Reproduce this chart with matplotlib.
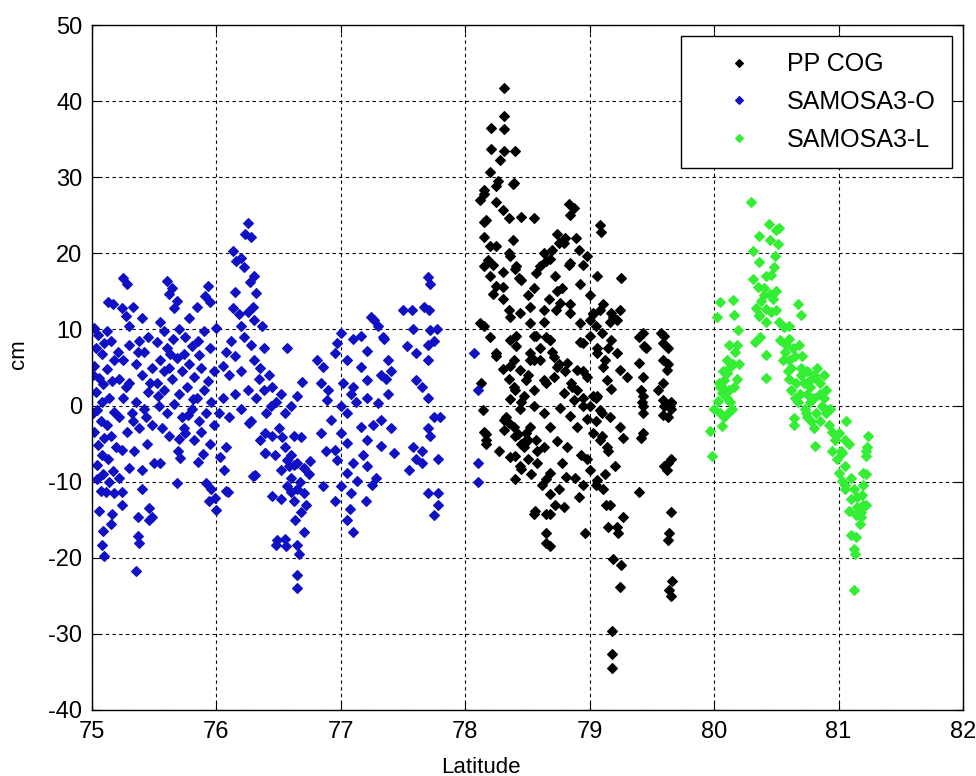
import matplotlib
matplotlib.use("Agg")
import matplotlib.pyplot as plt

plt.rcParams['font.family'] = ['Liberation Sans', 'DejaVu Sans']
plt.rcParams['axes.unicode_minus'] = False

# --- PP COG (black) ---
cog_lat = [
    78.31, 78.31, 78.21, 78.31, 78.40, 78.21, 78.31, 78.28, 78.20, 78.26, 78.38, 78.15, 78.12,
    78.25, 78.30, 78.35, 78.45, 78.55, 78.15, 78.83, 78.87, 79.08, 78.15, 78.20, 78.25, 78.18,
    78.22, 78.15, 78.20, 78.25, 78.22, 78.30, 78.35, 78.30, 78.35, 78.40, 78.45, 78.50, 78.55,
    78.60, 78.65, 78.70, 78.75, 78.80, 78.72, 78.78, 78.67, 78.73, 78.83, 78.95, 78.92, 79.00,
    79.03, 79.05, 79.10, 79.25, 79.15, 79.12, 78.15, 78.20, 78.25, 78.30, 78.35, 78.40, 78.45,
    78.50, 78.55, 78.60, 78.65, 78.70, 78.75, 78.80, 78.85, 78.90, 78.95, 79.00, 79.05, 79.10,
    78.13, 78.15, 78.17, 78.15, 78.25, 78.39, 78.84, 78.89, 79.09, 78.17, 78.36, 78.38, 78.41,
    78.30, 78.43, 78.57, 78.63, 78.68, 78.74, 78.79, 78.84, 78.91, 78.98, 79.06, 79.11, 79.17,
    79.22, 79.00, 78.84, 78.74, 78.63, 78.52, 78.41, 78.57, 78.68, 78.95, 79.06, 79.17, 78.25,
    78.36, 78.52, 78.63, 78.74, 78.86, 78.95, 79.06, 79.17, 78.12,
    # middle band
    78.36, 78.44, 78.52, 78.63, 78.76, 78.84, 78.92, 79.03, 79.08, 79.19, 79.00, 78.92, 78.36,
    78.41, 78.55, 78.68, 78.52, 78.60, 78.71, 78.82, 78.90, 78.98, 79.06, 79.11, 79.14, 79.22,
    79.24, 79.30, 78.39, 78.44, 78.49, 78.39, 78.47, 78.55, 78.65, 78.71, 78.79, 78.87, 78.95,
    79.03, 79.08, 79.16, 78.55, 78.63, 78.44, 78.36, 78.31, 78.39, 78.49, 78.57, 78.47, 78.76,
    78.84, 78.90, 78.98, 79.03, 79.08, 79.14, 79.24, 79.27, 78.68, 78.74, 78.82, 78.63, 79.24,
    79.16,
    # right columns
    79.43, 79.44, 79.57, 79.59, 79.40, 79.43, 79.59, 79.62, 79.59, 79.43, 79.43, 79.59, 79.65,
    79.59, 79.43, 79.41, 79.41, 79.42, 79.60, 79.63, 79.63, 79.55, 79.60, 79.65, 79.40, 79.45,
    79.43, 79.63, 79.65, 79.60, 79.65, 79.63, 79.62, 79.65, 79.64, 79.63, 79.66, 79.65, 79.64,
    79.40,
    # lower part
    78.14, 78.17, 78.31, 78.42, 78.52, 78.47, 78.36, 78.44, 78.58, 78.68, 78.17, 78.35, 78.40,
    78.45, 78.50, 78.40, 78.50, 78.45, 78.40, 78.65, 78.68, 78.81, 78.75, 78.72, 78.56, 78.65,
    78.65, 78.65, 78.55, 78.68, 78.68, 78.79, 78.96, 78.91, 78.95, 79.00, 79.05, 79.16, 79.13,
    79.27, 79.15, 79.23, 79.19, 79.25, 79.24, 79.18, 79.18, 79.18, 79.06, 79.11, 79.22, 79.05,
    79.10, 79.15, 79.20, 78.98, 78.58, 78.53, 78.62, 78.78, 78.88, 78.93, 79.12, 78.33, 78.27,
]
cog_cm = [
    41.7, 38.0, 36.5, 36.3, 33.4, 33.7, 33.5, 32.2, 30.7, 29.5, 29.1, 27.8, 27.0,
    26.8, 25.7, 24.6, 24.8, 24.6, 24.1, 26.5, 26.0, 23.7, 22.2, 21.0, 20.9, 19.1,
    18.5, 18.3, 17.0, 15.7, 14.6, 14.0, 12.6, 17.5, 20.0, 18.0, 16.5, 14.5, 15.5,
    18.3, 19.0, 20.5, 21.3, 22.0, 17.0, 15.5, 14.0, 12.5, 18.5, 18.5, 16.0, 14.5,
    12.0, 10.5, 9.5, 16.7, 7.5, 6.0, 10.4, 9.0, 6.5, 4.8, 3.5, 2.0, 0.5,
    4.0, 6.0, 7.5, 9.0, 7.0, 5.5, 4.5, 3.0, 2.0, 1.0, 0.0, 1.0, -1.0,
    3.0, -3.5, -5.0, 28.3, 28.8, 29.2, 25.0, 22.0, 22.8, 24.4, 19.6, 21.8, 18.3,
    15.6, 16.8, 17.4, 20.0, 19.2, 22.6, 21.3, 18.7, 20.4, 19.6, 17.0, 13.4, 12.1,
    11.2, 11.2, 13.4, 15.0, 11.0, 10.8, 9.1, 9.1, 8.6, 8.2, 7.5, 8.6, 6.9,
    5.2, 6.0, 3.4, 5.1, 2.5, 4.6, 1.2, 2.2, 10.8,
    11.7, 12.1, 13.0, 12.6, 13.5, 12.1, 10.8, 12.1, 12.6, 11.7, 9.1, 8.4, 8.6,
    7.8, 9.1, 8.6, 6.9, 6.0, 6.4, 5.6, 4.7, 3.8, 6.9, 5.1, 3.4, 6.9,
    4.7, 3.8, 6.0, 4.7, 3.4, 2.5, 1.2, 2.0, 2.9, 3.8, 1.6, 0.7, -0.1,
    1.2, -0.6, -1.5, -0.1, -1.0, -0.5, 0.8, -3.2, -2.8, -3.6, -4.5, -4.8, -0.3,
    -1.4, -2.8, -1.8, -3.6, -4.5, -5.4, -2.8, -4.2, -2.8, -4.6, -5.5, -5.4, 12.6,
    11.0,
    9.5, 7.8, 9.5, 8.2, 5.6, 3.8, 6.0, 4.7, 2.9, 1.2, -0.1, 0.7, 0.3,
    -1.2, -3.6, -4.2, 2.0, 0.5, 9.1, 7.5, 5.5, 2.0, 0.0, 0.5, 9.0, 7.5,
    -1.0, -1.5, -0.5, -8.0, -7.0, -7.5, -8.5, -14.0, -16.8, -17.6, -23.0, -25.0, -24.2,
    -11.4,
    -0.6, -3.7, -1.9, -3.7, -2.8, -5.4, -6.7, -8.0, -7.6, -8.9, -4.5, -2.3, -4.0,
    -5.0, -4.5, -6.6, -7.0, -8.3, -9.7, -9.7, -11.6, -9.4, -11.0, -13.0, -13.8, -14.3,
    -16.8, -18.1, -14.2, -14.2, -18.5, -13.3, -16.8, -12.0, -10.5, -8.5, -10.5, -13.1, -13.0,
    -14.7, -16.0, -16.8, -20.1, -21.0, -23.8, -29.6, -32.6, -34.5, -9.8, -11.0, -15.9, -2.0,
    -4.0, -6.0, -8.0, -7.0, -6.0, -9.0, -10.5, -7.5, -9.5, -6.5, -9.0, -1.5, -6.0,
]

# --- SAMOSA3-O (blue) ---
so_lat = [
    75.02, 75.05, 75.03, 75.08, 75.02, 75.06, 75.03, 75.08, 75.04, 75.07, 75.02, 75.05, 75.08,
    75.04, 75.09, 75.07, 75.06, 75.09, 75.08, 75.10, 75.09, 75.10, 75.10, 75.01, 75.01, 75.04,
    75.13, 75.17, 75.12, 75.15, 75.18, 75.12, 75.16, 75.14, 75.18, 75.12, 75.15, 75.19, 75.13,
    75.17, 75.14, 75.18, 75.16, 75.15, 75.11, 75.24, 75.24, 75.40, 75.37, 75.46, 75.48, 75.46,
    75.35, 75.37, 75.38,
    75.25, 75.28, 75.24, 75.27, 75.30, 75.33, 75.40, 75.38, 75.45, 75.42, 75.30, 75.25, 75.35,
    75.22, 75.30, 75.40, 75.48, 75.25, 75.35, 75.45, 75.22, 75.32, 75.42, 75.28, 75.38, 75.48,
    75.24, 75.34, 75.44, 75.30, 75.40, 75.22, 75.50, 75.27, 75.37, 75.47, 75.33, 75.43, 75.21,
    75.60, 75.62, 75.64, 75.68, 75.66, 75.84, 75.93, 75.95, 75.91, 75.55, 75.58, 75.52, 75.60,
    75.65, 75.70, 75.75, 75.80, 75.85, 75.90, 75.95, 76.00, 75.55, 75.62, 75.68, 75.72, 75.78,
    75.82, 75.88, 75.93, 75.98, 75.52, 75.58, 75.64, 75.70, 75.76, 75.84, 75.90, 75.96, 75.54,
    75.60, 75.66, 75.72, 75.80, 75.86, 75.92, 75.98, 75.56, 75.62, 75.74, 75.82, 75.88, 75.95,
    75.68, 75.71, 75.55, 75.75, 75.70, 75.85, 75.89, 75.92, 75.96, 75.94, 75.99, 76.00, 75.78,
    75.63, 75.74, 75.86, 75.58, 75.53, 75.77, 75.69, 75.81,
    76.09, 76.06, 76.03, 76.08, 76.29, 76.26, 76.39, 76.45, 76.48, 76.49,
    76.25, 76.23, 76.28, 76.13, 76.20, 76.16, 76.22, 76.30, 76.27, 76.32, 76.15, 76.13, 76.18,
    76.25, 76.30, 76.20, 76.22, 76.28, 76.12, 76.08, 76.15, 76.05, 76.10, 76.20, 76.30, 76.35,
    76.38, 76.42, 76.45, 76.38, 76.32, 76.25, 76.15, 76.05, 76.02, 76.10, 76.20, 76.28, 76.40,
    76.48, 76.52, 76.55, 76.50, 76.45, 76.35, 76.55, 76.60, 76.62, 76.58, 76.65, 76.52, 76.29,
    76.37, 76.57, 76.69, 76.65, 76.60, 76.68, 76.53, 76.39, 76.39, 76.47, 76.57, 76.62, 76.70,
    76.75, 76.57, 76.65, 76.31, 76.08, 76.34, 76.44,
    76.60, 76.68, 76.70, 76.65, 76.66, 76.65, 76.65, 76.55, 76.56, 76.52, 76.62, 76.72, 76.67,
    76.60, 76.70, 76.63, 76.74,
    76.81, 76.86, 76.84, 76.89, 76.95, 77.00, 76.97, 77.05, 77.10, 77.16, 77.21, 77.27, 77.30,
    77.35, 77.38, 77.16, 77.21, 77.10, 77.02, 77.32, 77.00, 77.05, 77.12, 77.21, 77.30, 77.38,
    77.32, 77.16, 77.00, 76.92, 76.84, 76.95, 77.05, 77.21, 77.32, 77.43, 76.97, 77.10, 77.21,
    77.05, 77.00, 77.13, 77.08, 76.86, 77.57, 77.53, 77.07, 77.10, 77.05, 76.95, 77.20, 77.24,
    77.26, 77.36, 77.40, 77.28, 77.34, 77.40, 76.90, 77.18, 77.25, 77.08, 76.88,
    77.70, 77.72, 77.50, 77.67, 77.71, 77.72, 77.77, 77.58, 77.60, 77.70, 77.75, 77.70, 77.60,
    77.65, 77.70, 77.75, 77.80, 77.70, 77.72, 77.65, 77.58, 77.60, 77.65, 77.78, 77.55, 77.70,
    77.78, 77.78, 77.75,
    78.07, 78.10, 78.10, 78.10,
]
so_cm = [
    10.2, 9.3, 7.5, 6.8, 5.2, 3.6, 1.8, 0.5, -0.6, -2.0, -3.5, -5.2, -6.5,
    -7.8, -9.0, -11.2, -13.8, -16.5, -18.3, -19.8, 2.8, 8.2, -4.2, 4.0, -1.0, -9.6,
    13.6, 13.4, 9.8, 8.5, 6.0, 4.8, 3.2, 1.0, -0.8, -2.5, -4.0, -5.5, -7.0,
    -8.6, -10.0, -11.5, -14.2, -15.5, -11.3, -11.3, -13.0, -10.9, -14.6, -13.5, -14.6, -15.0,
    -21.8, -17.2, -18.1,
    16.8, 16.0, 12.8, 11.8, 10.5, 13.0, 11.5, 8.5, 9.0, 7.0, 8.0, 6.0, 5.5,
    3.5, 3.0, 4.0, 5.0, 1.0, 0.5, 1.8, -1.5, -1.0, -0.5, -3.5, -3.0, -2.5,
    -5.8, -6.0, -5.0, -8.2, -8.5, -9.5, -7.5, 2.5, 7.0, 3.0, -2.0, -1.5, 7.0,
    16.4, 14.7, 15.5, 13.8, 12.8, 13.0, 15.7, 13.6, 14.4, 11.0, 9.8, 8.4, 7.5,
    8.8, 10.0, 9.0, 7.8, 8.5, 9.8, 7.5, 10.2, 6.0, 5.0, 6.2, 4.5, 5.5,
    3.8, 5.0, 3.2, 4.5, 3.0, 2.0, 3.5, 1.5, 2.5, 1.0, 2.0, 0.5, 0.0,
    -1.0, 0.2, -1.5, -0.5, -2.0, -1.0, -2.5, -3.0, -4.0, -3.0, -4.5, -3.5, -5.0,
    -10.2, -6.9, -7.5, -3.6, -4.4, -7.4, -6.3, -10.2, -11.0, -12.5, -12.1, -13.7, 11.5,
    6.8, 6.8, 6.6, 4.6, 1.2, -1.2, -6.0, 0.8,
    -11.4, -8.5, -6.8, -5.5, -9.3, -2.3, -6.2, -11.9, -18.3, -17.7,
    24.0, 22.5, 22.2, 20.3, 19.4, 19.0, 18.2, 17.0, 16.2, 14.8, 14.9, 12.8, 12.0,
    12.3, 11.2, 10.5, 9.0, 8.0, 8.5, 7.0, 6.5, 5.2, 4.0, 4.5, 6.0, 5.0,
    7.5, 4.0, 2.5, 2.0, 1.0, 2.0, 1.5, 1.0, -1.0, -1.5, -0.5, -2.0, -1.0,
    0.5, 1.5, -1.0, -3.0, -4.0, -4.5, -5.5, -6.5, -4.0, -8.0, -7.5, -8.5, 13.0,
    10.4, 7.6, 3.1, 1.2, -0.1, -4.1, -4.1, -3.6, -6.2, -6.5, -7.1, -7.8, -8.2,
    -7.3, -10.6, -11.0, -9.1, -11.2, 3.5, 0.0,
    -11.4, -14.0, -16.6, -18.3, -19.5, -22.3, -24.0, -17.5, -18.5, -12.3, -12.5, -13.0, -10.0,
    -9.5, -11.5, -15.0, -9.0,
    6.0, 5.1, 3.0, 0.7, 6.9, 9.5, 8.2, 6.0, 8.7, 9.1, 7.2, 11.3, 10.4,
    8.7, 6.0, 5.1, 3.4, 2.5, 3.0, 4.0, -0.1, -1.0, 0.5, 1.0, 0.3, 1.5,
    -1.9, -2.8, -3.6, -1.9, -3.6, -5.8, -4.9, -4.5, -5.3, -6.2, -7.1, -7.5, -8.0,
    -8.8, -10.6, -9.9, -11.5, -10.6, 12.6, 7.8, -13.6, -16.6, -15.0, -12.5, -12.5, 11.6,
    -2.5, 3.5, -3.0, -9.5, 9.0, 4.5, 2.0, -6.5, -10.5, 1.5, -6.0,
    16.9, 16.0, 12.5, 13.0, 12.5, 9.9, 10.0, 10.0, 6.9, 8.0, 8.5, 6.0, 3.4,
    2.5, 1.0, -1.5, -1.5, -3.0, -4.0, -6.0, -5.5, -7.0, -7.5, -7.0, -8.5, -11.5,
    -11.5, -13.0, -14.4,
    6.9, 2.1, -7.5, -10.0,
]

# --- SAMOSA3-L (green) ---
sl_lat = [
    80.30, 80.44, 80.36, 80.50, 80.52, 80.45, 80.51, 80.31, 80.36, 80.49, 80.48, 80.46, 80.42,
    80.31, 80.35, 80.40, 80.45, 80.38, 80.50, 80.50, 80.42, 80.36, 80.34, 80.46, 80.36, 80.42,
    80.52, 80.60, 80.67, 80.70, 80.56, 80.60, 80.53, 80.37, 80.33, 80.42, 80.42, 80.47, 80.40,
    80.05, 80.02, 80.15, 80.16, 80.19, 80.18, 80.17, 80.15, 80.13, 80.10, 80.08, 80.05, 80.06,
    80.03, 80.00, 80.05, 80.08, 80.06, 79.97, 79.98, 80.14, 80.12, 80.18, 80.20, 80.10, 80.10,
    80.12, 80.07, 80.04, 80.09, 80.13, 80.16, 80.11,
    80.57, 80.60, 80.62, 80.65, 80.60, 80.62, 80.65, 80.67, 80.64, 80.64, 80.70, 80.72, 80.70,
    80.75, 80.78, 80.80, 80.82, 80.85, 80.85, 80.80, 80.77, 80.75, 80.73, 80.75, 80.78, 80.80,
    80.82, 80.85, 80.87, 80.90, 80.90, 80.88, 80.81, 80.92, 80.95, 80.97, 80.95, 80.58, 80.63,
    80.68, 80.55, 80.59, 80.66, 80.71, 80.77, 80.83, 80.69, 80.74, 80.88, 80.93,
    81.00, 81.02, 81.05, 81.08, 81.03, 81.05, 81.00, 81.03, 81.05, 81.10, 81.08, 81.05, 81.10,
    81.12, 81.15, 81.14, 81.10, 81.14, 81.12, 81.12, 81.24, 81.22, 81.22, 81.22, 81.20, 81.20,
    81.19, 81.20, 81.22, 81.18, 81.18, 81.06, 80.99, 81.15, 81.23, 81.17, 81.13,
]
sl_cm = [
    26.7, 23.8, 22.3, 23.0, 23.3, 21.7, 21.2, 20.3, 18.8, 19.7, 18.2, 17.1, 17.0,
    16.6, 15.6, 15.5, 14.7, 13.8, 15.1, 12.5, 12.7, 11.8, 12.8, 12.3, 11.9, 11.0,
    11.0, 10.5, 13.4, 11.9, 10.3, 8.8, 8.6, 9.0, 8.4, 6.7, 3.6, 14.0, 14.5,
    13.6, 11.7, 13.9, 11.9, 9.9, 8.0, 7.1, 5.5, 5.1, 4.3, 3.4, 2.5, 1.7,
    0.6, -0.5, -1.0, -1.5, -2.7, -3.3, -6.6, -0.5, 2.0, 3.5, 5.5, 1.0, 6.0,
    8.0, 4.5, 3.0, 2.0, 0.5, 2.5, -1.0,
    7.0, 6.0, 5.0, 6.5, 3.5, 2.0, 1.0, 0.5, -1.6, -2.5, 4.0, 3.0, 5.0,
    4.5, 3.5, 4.0, 3.5, 3.0, 1.5, 1.0, 0.5, 1.5, -0.5, -1.5, -2.0, -3.0,
    -1.0, -2.0, 0.0, -1.0, 2.0, 4.0, -5.3, -2.5, -3.5, -4.5, -6.0, 8.0, 7.5,
    8.0, 6.0, 4.5, 3.0, 6.5, 2.5, 5.0, 1.5, -1.0, 1.0, -0.5,
    -3.6, -6.0, -4.5, -5.0, -6.2, -8.0, -8.8, -9.9, -11.0, -12.3, -13.8, -10.5, -9.5,
    -11.0, -13.3, -14.4, -17.0, -17.3, -18.8, -24.2, -4.0, -6.0, -6.6, -9.0, -8.8, -10.5,
    -11.8, -13.0, -13.1, -14.0, -14.7, -2.0, -7.0, -12.0, -5.5, -15.5, -19.5,
]

fig = plt.figure(figsize=(9.76, 7.76), dpi=100)
ax = fig.add_axes([92 / 976, 66 / 776, 871 / 976, 685 / 776])

mk = dict(linestyle='none', marker='D', markersize=5.3, markeredgewidth=0.8)
ax.plot(cog_lat, cog_cm, color='black', label='PP COG', **mk)
ax.plot(so_lat, so_cm, color='#1010C4', label='SAMOSA3-O', **mk)
ax.plot(sl_lat, sl_cm, color='#33EE33', label='SAMOSA3-L', **mk)

ax.set_xlim(75, 82)
ax.set_ylim(-40, 50)
ax.set_xticks(range(75, 83))
ax.set_yticks(range(-40, 51, 10))
ax.tick_params(direction='in', top=True, right=True, length=6, labelsize=17)
ax.tick_params(axis='x', pad=8)
ax.tick_params(axis='y', pad=7)
ax.grid(True, color='black', linestyle=(0, (3, 3)), linewidth=0.8)
for sp in ax.spines.values():
    sp.set_linewidth(1.0)

ax.set_xlabel('Latitude', fontsize=16)
ax.xaxis.set_label_coords(0.447, -0.068)
ax.set_ylabel('cm', fontsize=16)
ax.yaxis.set_label_coords(-0.072, 0.52)

leg = ax.legend(loc='upper right', numpoints=1, fontsize=18, fancybox=False,
                edgecolor='black', framealpha=1, borderaxespad=0.45, borderpad=0.64,
                handlelength=3.3, handletextpad=0.28, labelspacing=0.55, markerscale=0.8)
leg.get_frame().set_linewidth(1.0)

fig.savefig('out.png', dpi=100)
